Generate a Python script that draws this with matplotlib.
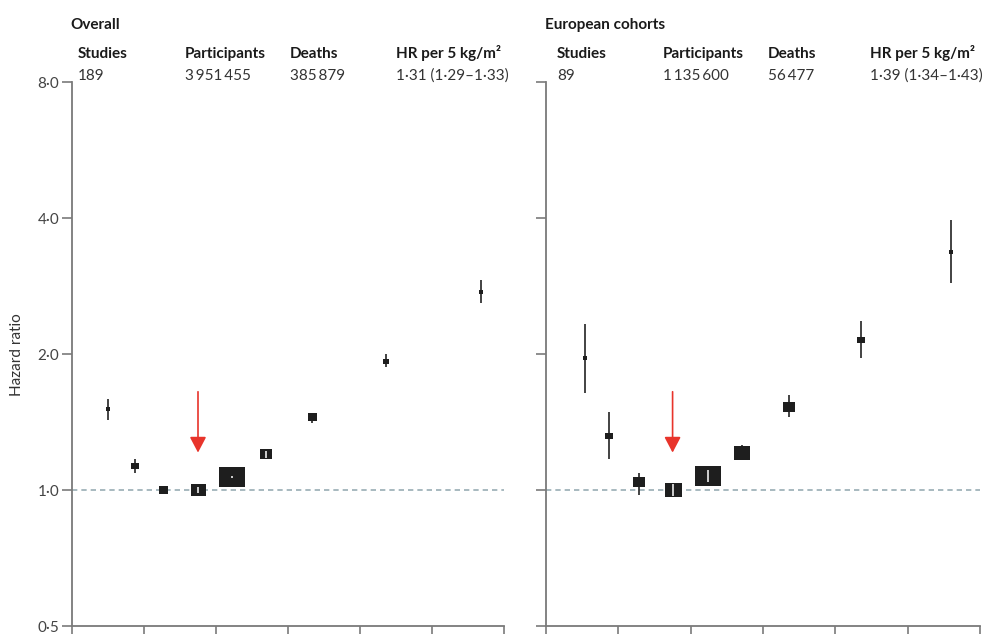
import numpy as np
import matplotlib.pyplot as plt

plt.rcParams['font.family'] = ['Lato', 'DejaVu Sans']

# %% Data: hazard ratio (95% CI) by BMI category
# x = median BMI within each category (kg/m2)
bmi_all = [17.5, 19.4, 21.3, 23.75, 26.1, 28.5, 31.7, 36.8, 43.4]
hr_all = [1.51, 1.13, 1.00, 1.00, 1.07, 1.20, 1.45, 1.93, 2.74]
lo_all = [1.43, 1.09, 0.998, 0.985, 1.065, 1.18, 1.41, 1.87, 2.60]
hi_all = [1.59, 1.17, 1.002, 1.015, 1.075, 1.22, 1.48, 2.00, 2.91]
wt_all = [0.16, 0.28, 0.36, 0.60, 1.00, 0.48, 0.36, 0.24, 0.16]

bmi_eu = [17.7, 19.35, 21.4, 23.8, 26.2, 28.55, 31.8, 36.8, 43.0]
hr_eu = [1.96, 1.32, 1.04, 1.00, 1.075, 1.21, 1.53, 2.15, 3.36]
lo_eu = [1.64, 1.17, 0.975, 0.968, 1.04, 1.165, 1.45, 1.96, 2.87]
hi_eu = [2.33, 1.49, 1.09, 1.033, 1.11, 1.26, 1.62, 2.37, 3.96]
wt_eu = [0.16, 0.28, 0.44, 0.68, 1.00, 0.64, 0.48, 0.28, 0.16]

ref_bmi = 23.75  # reference category 22.5-25

header_cols = ['Studies', 'Participants', 'Deaths', 'HR per 5 kg/m\u00b2']
stats_all = ['189', '3\u2009951\u2009455', '385\u2009879', '1\u00b731 (1\u00b729\u20131\u00b733)']
stats_eu = ['89', '1\u2009135\u2009600', '56\u2009477', '1\u00b739 (1\u00b734\u20131\u00b743)']

yticks = [0.5, 1, 2, 4, 8]
ytick_labels = ['0\u00b75', '1\u00b70', '2\u00b70', '4\u00b70', '8\u00b70']
xticks = [15, 20, 25, 30, 35, 40, 45]

# %% Figure layout (pixel based)
W, H = 991, 634
DPI = 100
fig = plt.figure(figsize=(W / DPI, H / DPI), dpi=DPI)

def px(x, y):
    return x / W, 1 - y / H

ax1 = fig.add_axes([72 / W, 8 / H, 432 / W, 544 / H])
ax2 = fig.add_axes([546 / W, 8 / H, 434 / W, 544 / H])

# rectangle marker slightly wider than tall
rect = [(-0.6, -0.5), (0.6, -0.5), (0.6, 0.5), (-0.6, 0.5), (-0.6, -0.5)]
max_box_px = 25


def forest(ax, bmi, hr, lo, hi, wt, show_labels):
    ax.set_yscale('log')
    ax.set_ylim(0.5, 8)
    ax.set_xlim(15, 45)
    ax.set_yticks(yticks)
    ax.set_yticks([], minor=True)
    ax.set_yticklabels(ytick_labels if show_labels else [])
    ax.set_xticks(xticks)
    ax.tick_params(axis='both', length=7, width=1.2, color='#7a7a7a',
                   labelsize=11, labelcolor='#444444', pad=2)
    ax.tick_params(axis='x', labelbottom=False)
    for s in ['top', 'right']:
        ax.spines[s].set_visible(False)
    for s in ['left', 'bottom']:
        ax.spines[s].set_color('#7a7a7a')
        ax.spines[s].set_linewidth(1.3)

    ax.axhline(1, color='#98adb4', lw=1.2, dashes=(3.2, 2.4), zorder=1)

    for x, h, l, u, w in zip(bmi, hr, lo, hi, wt):
        box_w = w * max_box_px            # px
        box_h = box_w / 1.2
        ms = box_w * 72 / DPI
        y_c = ax.transData.transform((x, h))[1]
        y_l = ax.transData.transform((x, l))[1]
        y_u = ax.transData.transform((x, u))[1]
        inside = (y_u - y_c) < box_h / 2 - 0.5 and (y_c - y_l) < box_h / 2 - 0.5
        if inside:
            ax.plot([x, x], [l, u], color='white', lw=1.1,
                    solid_capstyle='butt', zorder=4)
        else:
            ax.plot([x, x], [l, u], color='#222222', lw=1.2,
                    solid_capstyle='butt', zorder=2)
        ax.plot(x, h, marker=rect, ms=ms, mew=0, color='#1e1e1e',
                linestyle='none', zorder=3)

    # arrow pointing to the reference category
    ax.annotate('', xy=(ref_bmi, 1.21), xytext=(ref_bmi, 1.65),
                arrowprops=dict(arrowstyle='-|>,head_length=0.95,head_width=0.5',
                                mutation_scale=10, color='#e8342b', lw=1.2,
                                shrinkA=0, shrinkB=0),
                zorder=5)


forest(ax1, bmi_all, hr_all, lo_all, hi_all, wt_all, True)
forest(ax2, bmi_eu, hr_eu, lo_eu, hi_eu, wt_eu, False)

# %% Header text above each panel
def header(title_x, col_x, title, stats):
    fig.text(*px(title_x, 29), title, fontsize=11, fontweight='bold',
             color='#1a1a1a', va='baseline')
    for x, col, val in zip(col_x, header_cols, stats):
        fig.text(*px(x, 58), col, fontsize=11, fontweight='bold',
                 color='#1a1a1a', va='baseline')
        fig.text(*px(x, 80), val, fontsize=11,
                 color='#333333', va='baseline')

header(70, [78, 185, 290, 396], 'Overall', stats_all)
header(545, [557, 663, 768, 870], 'European cohorts', stats_eu)

fig.text(*px(17, 355), 'Hazard ratio', rotation=90, fontsize=11,
         color='#333333', ha='center', va='center')

fig.savefig('out.png', dpi=DPI)
